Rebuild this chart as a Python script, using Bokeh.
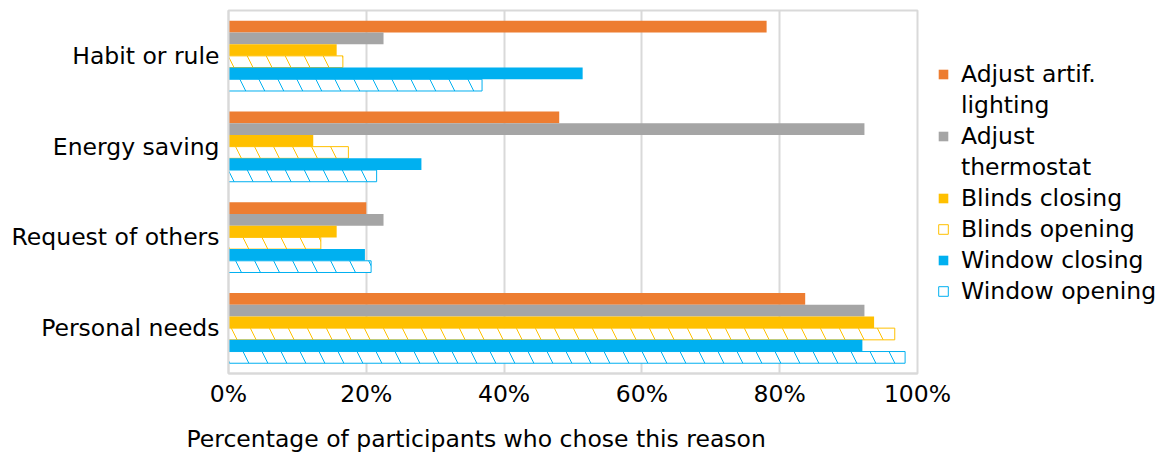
from bokeh.plotting import figure
from bokeh.models import (ColumnDataSource, FactorRange, Legend, LegendItem,
                          PrintfTickFormatter, FixedTicker, Title)
from bokeh.transform import dodge
from bokeh.embed import file_html
from bokeh.resources import INLINE

# Reasons (bottom to top on the axis)
reasons = ["Personal needs", "Request of others", "Energy saving", "Habit or rule"]

# Share of participants (%) choosing each reason, per action
adjust_lighting = [83.7, 20.0, 48.0, 78.1]
adjust_thermostat = [92.3, 22.5, 92.3, 22.5]
blinds_closing = [93.7, 15.7, 12.3, 15.7]
blinds_opening = [96.7, 13.4, 17.4, 16.6]
window_closing = [92.0, 19.8, 28.0, 51.4]
window_opening = [98.2, 20.7, 21.5, 36.8]

x_ticks = [0, 20, 40, 60, 80, 100]

FONT = "DejaVu Sans"
FS = "23.5px"
ORANGE, GRAY, YELLOW, BLUE = "#ED7D31", "#A5A5A5", "#FFC000", "#00B0F0"

source = ColumnDataSource(dict(
    reason=reasons,
    lighting=adjust_lighting,
    thermostat=adjust_thermostat,
    bclose=blinds_closing,
    bopen=blinds_opening,
    wclose=window_closing,
    wopen=window_opening,
))

p = figure(frame_width=689, frame_height=363, y_range=FactorRange(*reasons),
           x_range=(0, 100), output_backend="svg", toolbar_location=None,
           min_border_left=228, min_border_right=0, min_border_top=10,
           min_border_bottom=0)

bar_h = 0.129
# (column, legend lines, colour, hatched)
series = [
    ("lighting", ["Adjust artif.", "lighting"], ORANGE, False),
    ("thermostat", ["Adjust", "thermostat"], GRAY, False),
    ("bclose", ["Blinds closing"], YELLOW, False),
    ("bopen", ["Blinds opening"], YELLOW, True),
    ("wclose", ["Window closing"], BLUE, False),
    ("wopen", ["Window opening"], BLUE, True),
]

# invisible renderer used for the wrapped second line of a legend entry
blank = p.hbar(y=[], right=[], left=0, height=bar_h, fill_alpha=0, line_alpha=0)

items = []
for i, (col, lines, color, hatched) in enumerate(series):
    offset = (2.5 - i) * bar_h
    if hatched:
        r = p.hbar(y=dodge("reason", offset, range=p.y_range), right=col, left=0,
                   height=bar_h, source=source, fill_color="white",
                   line_color=color, line_width=1,
                   hatch_pattern="\\", hatch_color=color, hatch_scale=38,
                   hatch_weight=1)
    else:
        r = p.hbar(y=dodge("reason", offset, range=p.y_range), right=col, left=0,
                   height=bar_h, source=source, fill_color=color, line_color=None)
    items.append(LegendItem(label=lines[0], renderers=[r]))
    for extra in lines[1:]:
        items.append(LegendItem(label=extra, renderers=[blank]))

legend = Legend(items=items, location=(20, 68), border_line_color=None,
                background_fill_alpha=0, label_text_font=FONT,
                label_text_font_size=FS, label_text_color="#000000",
                glyph_width=12, glyph_height=12, label_standoff=12,
                spacing=3, padding=4, margin=0)
p.add_layout(legend, "right")

# Axes, grid and frame
p.xaxis.ticker = FixedTicker(ticks=x_ticks)
p.xaxis.formatter = PrintfTickFormatter(format="%d%%")
for ax in (p.xaxis, p.yaxis):
    ax.major_label_text_font = FONT
    ax.major_label_text_font_size = FS
    ax.major_label_text_color = "#000000"
    ax.axis_line_color = "#D9D9D9"
    ax.axis_line_width = 2
    ax.major_tick_line_color = None
    ax.minor_tick_line_color = None
p.xaxis.major_label_standoff = 0
p.yaxis.major_label_standoff = 3

p.xgrid.grid_line_color = "#D9D9D9"
p.xgrid.grid_line_width = 2
p.ygrid.grid_line_color = None
p.outline_line_color = "#D9D9D9"
p.outline_line_width = 2

p.add_layout(Title(text="Percentage of participants who chose this reason",
                   align="left", offset=-42, standoff=25,
                   text_font=FONT, text_font_size=FS, text_color="#000000",
                   text_font_style="normal"), "below")

open("out.html", "w").write(file_html(p, INLINE))
